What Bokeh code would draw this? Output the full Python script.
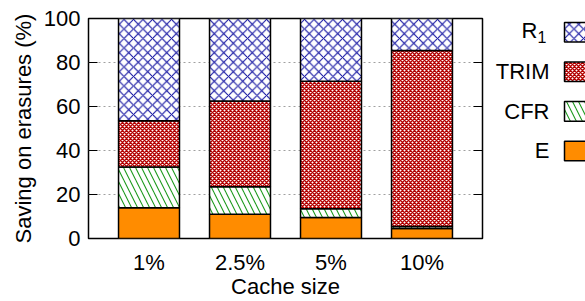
import numpy as np
from bokeh.plotting import figure
from bokeh.models import FixedTicker, LinearAxis, Range1d
from bokeh.layouts import row
from bokeh.embed import file_html
from bokeh.resources import INLINE
from bokeh.core.properties import value

# ---- data ----
categories = ["1%", "2.5%", "5%", "10%"]
E = [14, 11, 9.5, 4.5]
CFR = [18.5, 12.5, 4, 1]
TRIM = [21, 39, 58, 80]
R1 = [46.5, 37.5, 28.5, 14.5]
y_ticks = [0, 20, 40, 60, 80, 100]

FONT = "Liberation Sans"
FS = "22px"

series = [
    ("E", E, dict(fill_color="#ff8c00", hatch_pattern=" ", hatch_color="#ff8c00", hatch_scale=8, hatch_weight=1)),
    ("CFR", CFR, dict(fill_color="white", hatch_pattern="\\", hatch_color="#1e9a1e", hatch_scale=12, hatch_weight=1.1)),
    ("TRIM", TRIM, dict(fill_color="white", hatch_pattern="x", hatch_color="#b40000", hatch_scale=4, hatch_weight=1.5)),
    ("R1", R1, dict(fill_color="white", hatch_pattern="x", hatch_color="#1010a0", hatch_scale=9.5, hatch_weight=1.1)),
]

x = np.arange(len(categories))

H = 301
TOP, BOT = 18, 58
W1 = 488
p = figure(width=W1, height=H, output_backend="svg", toolbar_location=None,
           x_range=Range1d(-0.665, 3.665), y_range=Range1d(0, 100),
           min_border_left=88, min_border_right=6, min_border_top=TOP, min_border_bottom=BOT)
p.outline_line_color = "black"
p.outline_line_width = 1.5
p.background_fill_color = "white"
p.border_fill_color = "white"

bottom = np.zeros(len(categories))
for name, vals, style in series:
    top = bottom + np.array(vals, dtype=float)
    p.vbar(x=x, width=0.67, bottom=bottom, top=top, line_color="black", line_width=1.5, **style)
    bottom = top

# axes
p.xaxis.ticker = FixedTicker(ticks=list(x))
p.xaxis.major_label_overrides = {int(i): c for i, c in zip(x, categories)}
p.xaxis.major_tick_in = 0
p.xaxis.major_tick_out = 0
p.xaxis.minor_tick_line_color = None
p.xaxis.axis_line_color = None
p.xaxis.axis_label = "Cache size"
p.xaxis.major_label_standoff = 11
p.xaxis.axis_label_standoff = -4

p.yaxis.ticker = FixedTicker(ticks=y_ticks)
p.yaxis.major_tick_in = 9
p.yaxis.major_tick_out = 0
p.yaxis.minor_tick_line_color = None
p.yaxis.axis_line_color = None
p.yaxis.axis_label = "Saving on erasures (%)"
p.yaxis.major_label_standoff = 8
p.yaxis.axis_label_standoff = 5

for ax in (p.xaxis[0], p.yaxis[0]):
    ax.major_label_text_font = FONT
    ax.major_label_text_font_size = FS
    ax.major_label_text_color = "black"
    ax.axis_label_text_font = FONT
    ax.axis_label_text_font_size = FS
    ax.axis_label_text_font_style = "normal"
    ax.axis_label_text_color = "black"
    ax.major_tick_line_color = "black"
    ax.major_tick_line_width = 1.2

ry = LinearAxis(ticker=FixedTicker(ticks=y_ticks), major_tick_in=9, major_tick_out=0,
                minor_tick_line_color=None, axis_line_color=None,
                major_label_overrides={t: "" for t in y_ticks}, major_label_standoff=0,
                major_label_text_font_size="1px", major_tick_line_width=1.2)
p.add_layout(ry, "right")

p.xgrid.grid_line_color = None
p.ygrid.ticker = FixedTicker(ticks=[20, 40, 60, 80])
p.ygrid.grid_line_color = "#a0a0a0"
p.ygrid.grid_line_dash = "2 3"
p.ygrid.grid_line_width = 1

# ---- legend figure (pixel coordinates; frame aligned with main frame) ----
lw = 585 - W1
lg = figure(width=lw, height=H, output_backend="svg", toolbar_location=None,
            x_range=Range1d(0, lw), y_range=Range1d(H - BOT, TOP),
            min_border=0, min_border_left=0, min_border_right=0,
            min_border_top=TOP, min_border_bottom=BOT)
lg.axis.visible = False
lg.grid.visible = False
lg.outline_line_color = None
lg.background_fill_color = "white"
lg.border_fill_color = "white"

legend_order = ["R1", "TRIM", "CFR", "E"]
style_map = {n: s for n, _, s in series}
row0, dy, box_h = 32, 40.5, 20
text_right, box_left, box_w = 549 - W1, 564 - W1, 30
for i, name in enumerate(legend_order):
    yc = row0 + i * dy
    lg.rect(x=[box_left + box_w / 2], y=[yc], width=box_w, height=box_h,
            line_color="black", line_width=1.5, **style_map[name])
    if name == "R1":
        lg.text(x=[text_right - 12], y=[yc - 2], text=["R"], text_align="right", text_baseline="middle",
                text_font=value(FONT), text_font_size=FS, text_color="black")
        lg.text(x=[text_right - 12], y=[yc + 5], text=["1"], text_align="left", text_baseline="middle",
                text_font=value(FONT), text_font_size="16px", text_color="black")
    else:
        lg.text(x=[text_right], y=[yc], text=[name], text_align="right", text_baseline="middle",
                text_font=value(FONT), text_font_size=FS, text_color="black")

layout = row(p, lg, spacing=0)
open("out.html", "w").write(file_html(layout, INLINE))
